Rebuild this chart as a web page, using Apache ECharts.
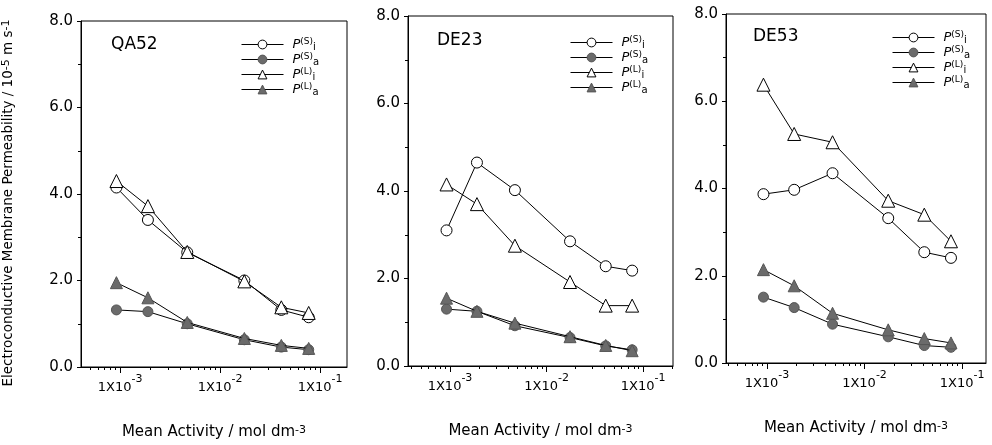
<!DOCTYPE html>
<html>
<head>
<meta charset="utf-8">
<script src="https://cdn.jsdelivr.net/npm/echarts@6/dist/echarts.min.js"></script>
<style>
html, body { margin: 0; padding: 0; background: #fff; }
#main { width: 992px; height: 445px; }
</style>
</head>
<body>
<div id="main"></div>
<script>
// mean activity (mol dm-3), same six solutions for every membrane
const activity = [0.00092, 0.0019, 0.0047, 0.0175, 0.041, 0.077];

// QA52
const qa52_PSi = [4.15, 3.40, 2.65, 2.00, 1.32, 1.15];
const qa52_PSa = [1.32, 1.28, 1.00, 0.63, 0.46, 0.40];
const qa52_PLi = [4.30, 3.72, 2.66, 1.98, 1.38, 1.25];
const qa52_PLa = [1.95, 1.60, 1.03, 0.66, 0.50, 0.43];

// DE23
const de23_PSi = [3.10, 4.65, 4.02, 2.85, 2.28, 2.18];
const de23_PSa = [1.30, 1.25, 0.92, 0.65, 0.46, 0.37];
const de23_PLi = [4.15, 3.70, 2.75, 1.92, 1.38, 1.38];
const de23_PLa = [1.55, 1.25, 0.98, 0.67, 0.47, 0.35];

// DE53
const de53_PSi = [3.87, 3.97, 4.35, 3.32, 2.54, 2.41];
const de53_PSa = [1.51, 1.27, 0.89, 0.60, 0.40, 0.36];
const de53_PLi = [6.38, 5.25, 5.06, 3.72, 3.40, 2.79];
const de53_PLa = [2.14, 1.77, 1.14, 0.76, 0.56, 0.46];

const panelNames = ['QA52', 'DE23', 'DE53'];
const majorTicks = [0.001, 0.01, 0.1];
const majorExp = ['-3', '-2', '-1'];

const seriesNames = ['PSi', 'PSa', 'PLi', 'PLa'];

// minor log ticks 2..9 x 10^n
const minorTicks = [];
[0.0001, 0.001, 0.01, 0.1].forEach(function (d) {
    for (let k = 2; k <= 9; k++) minorTicks.push(+(k * d).toPrecision(3));
});

const panels = [
    { data: [qa52_PSi, qa52_PSa, qa52_PLi, qa52_PLa], grid: { left: 81, top: 21, width: 266, height: 349 },
      xmin: 0.000407, xmax: 0.186, title: [111, 36], legend: [241, 37] },
    { data: [de23_PSi, de23_PSa, de23_PLi, de23_PLa], grid: { left: 408, top: 16, width: 265, height: 350 },
      xmin: 0.000367, xmax: 0.204, title: [437, 32], legend: [570, 35] },
    { data: [de53_PSi, de53_PSa, de53_PLi, de53_PLa], grid: { left: 726, top: 14, width: 260, height: 349 },
      xmin: 0.00038, xmax: 0.176, title: [753, 28], legend: [892, 30] }
];

const FONT = 'DejaVu Sans';
const GREY = '#6b6b6b';

const styles = [
    { symbol: 'circle', symbolSize: 11, itemStyle: { color: '#fff', borderColor: '#000', borderWidth: 1 } },
    { symbol: 'circle', symbolSize: 10, itemStyle: { color: GREY, borderColor: '#555', borderWidth: 1 } },
    { symbol: 'triangle', symbolSize: 13, itemStyle: { color: '#fff', borderColor: '#000', borderWidth: 1 } },
    { symbol: 'triangle', symbolSize: 12, itemStyle: { color: GREY, borderColor: '#555', borderWidth: 1 } }
];

const legendText = {
    PSi: '{p|P}{s|(S)}{b|i}',
    PSa: '{p|P}{s|(S)}{b|a}',
    PLi: '{p|P}{s|(L)}{b|i}',
    PLa: '{p|P}{s|(L)}{b|a}'
};

const grids = [], xAxes = [], yAxes = [], series = [], titles = [], legends = [];

panels.forEach(function (pn, i) {
    grids.push(Object.assign({ show: true, borderColor: '#000', borderWidth: 1, backgroundColor: 'transparent' }, pn.grid));

    titles.push({
        text: panelNames[i], left: pn.title[0], top: pn.title[1], padding: 0,
        textStyle: { fontFamily: FONT, fontSize: 17, fontWeight: 'normal', color: '#000' }
    });

    legends.push({
        data: seriesNames, orient: 'vertical', left: pn.legend[0], top: pn.legend[1], padding: 0,
        itemWidth: 42, itemHeight: 11, itemGap: 0, selectedMode: false,
        lineStyle: { width: 1 },
        itemStyle: { borderWidth: 1 },
        formatter: function (n) { return legendText[n]; },
        textStyle: {
            fontFamily: FONT, color: '#000', padding: [0, 0, 0, 4],
            rich: {
                p: { fontSize: 13, fontStyle: 'italic', lineHeight: 15, verticalAlign: 'middle' },
                s: { fontSize: 9, lineHeight: 9, verticalAlign: 'top' },
                b: { fontSize: 10, lineHeight: 10, verticalAlign: 'bottom' }
            }
        }
    });

    // major decades with labels
    xAxes.push({
        type: 'log', gridIndex: i, min: pn.xmin, max: pn.xmax, position: 'bottom',
        axisLine: { show: true, lineStyle: { color: '#000', width: 1 } },
        axisTick: { show: true, length: 6, inside: false, customValues: majorTicks, lineStyle: { color: '#000' } },
        axisLabel: {
            customValues: majorTicks, margin: 7, color: '#000', fontFamily: FONT,
            formatter: function (v) {
                const k = majorTicks.findIndex(function (t) { return Math.abs(t - v) / t < 1e-6; });
                return '{b|1X10}{s|' + majorExp[k] + '}';
            },
            rich: {
                b: { fontSize: 13, lineHeight: 20, verticalAlign: 'bottom', fontFamily: FONT },
                s: { fontSize: 11, lineHeight: 11, verticalAlign: 'top', fontFamily: FONT }
            }
        },
        splitLine: { show: false },
        name: 'Mean Activity / mol dm{s|-3}', nameLocation: 'middle', nameGap: 58,
        nameTextStyle: {
            fontFamily: FONT, fontSize: 15, color: '#000',
            rich: { s: { fontSize: 11, lineHeight: 11, verticalAlign: 'top', fontFamily: FONT } }
        }
    });
    // minor log ticks
    xAxes.push({
        type: 'log', gridIndex: i, min: pn.xmin, max: pn.xmax, position: 'bottom',
        axisLine: { show: false },
        axisTick: { show: true, length: 3, inside: false, customValues: minorTicks, lineStyle: { color: '#000' } },
        axisLabel: { show: false },
        splitLine: { show: false }
    });

    yAxes.push({
        type: 'value', gridIndex: i, min: 0, max: 8, interval: 2,
        axisLine: { show: true, lineStyle: { color: '#000', width: 1 } },
        axisTick: { show: true, length: 4, inside: false, lineStyle: { color: '#000' } },
        minorTick: { show: true, splitNumber: 2, length: 3, lineStyle: { color: '#000' } },
        axisLabel: {
            margin: 8, fontSize: 15, fontFamily: FONT, color: '#000',
            formatter: function (v) { return v.toFixed(1); }
        },
        splitLine: { show: false },
        name: i === 0 ? 'Electroconductive Membrane Permeability / 10{s|-5} m s{s|-1}' : '',
        nameLocation: 'middle', nameGap: 66, nameRotate: 90,
        nameTextStyle: {
            fontFamily: FONT, fontSize: 13.5, color: '#000', padding: [0, 18, 0, 0],
            rich: { s: { fontSize: 11, lineHeight: 11, verticalAlign: 'top', fontFamily: FONT } }
        }
    });

    pn.data.forEach(function (vals, j) {
        series.push(Object.assign({
            type: 'line', name: seriesNames[j],
            xAxisIndex: i * 2, yAxisIndex: i,
            data: activity.map(function (a, k) { return [a, vals[k]]; }),
            lineStyle: { color: '#000', width: 1 },
            showSymbol: true, animation: false, z: 3 + j
        }, styles[j]));
    });
});

let myChart = echarts.init(document.getElementById('main'), null, { renderer: 'canvas' });
myChart.setOption({
    backgroundColor: '#fff',
    animation: false,
    title: titles,
    legend: legends,
    grid: grids,
    xAxis: xAxes,
    yAxis: yAxes,
    series: series
});
</script>
</body>
</html>
